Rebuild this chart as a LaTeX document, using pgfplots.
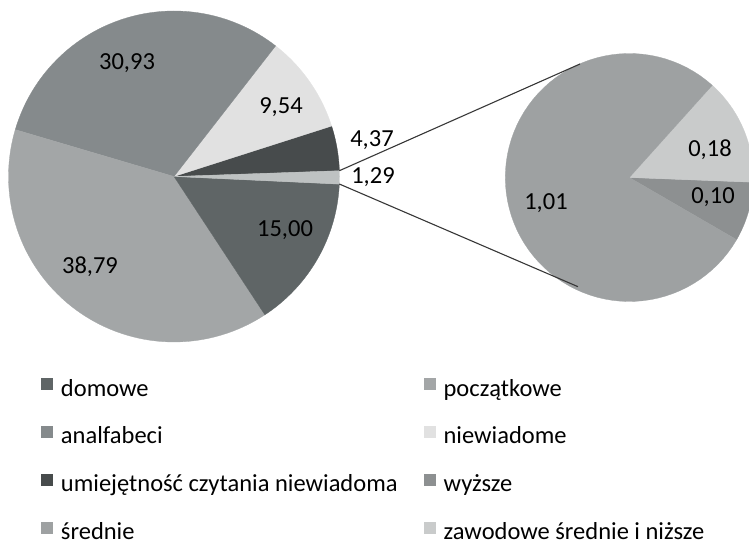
\documentclass[border=0pt]{standalone}
\usepackage{fontspec}
\setmainfont{Carlito}
\usepackage{pgfplots}
\pgfplotsset{compat=1.18}
\definecolor{cDom}{RGB}{95,101,102}
\definecolor{cPocz}{RGB}{163,166,167}
\definecolor{cAnal}{RGB}{133,138,140}
\definecolor{cNiew}{RGB}{225,225,225}
\definecolor{cUmiej}{RGB}{71,75,76}
\definecolor{cInne}{RGB}{190,194,194}
\definecolor{cSred}{RGB}{158,161,162}
\definecolor{cZaw}{RGB}{201,203,203}
\definecolor{cWyz}{RGB}{141,144,145}
\definecolor{cLine}{RGB}{55,55,55}
\newcommand\lblfont{\fontsize{24.5}{29}\selectfont}
% one wedge: centre x, centre y, radius, start angle, end angle, colour
\newcommand\slice[6]{%
  \addplot[fill=#6, draw=#6, line width=0.3pt, domain=#4:#5, samples=80,
    variable=\t, forget plot]
    ({#1+#3*cos(\t)},{#2+#3*sin(\t)}) -- (axis cs:#1,#2) -- cycle;}
\begin{document}
\begin{tikzpicture}
% values (percent)
\def\vDom{15.00}\def\vPocz{38.79}\def\vAnal{30.93}\def\vNiew{9.54}
\def\vUmiej{4.37}\def\vInne{1.29}
\def\vSred{1.01}\def\vZaw{0.18}\def\vWyz{0.10}
\pgfmathsetmacro\tot{\vDom+\vPocz+\vAnal+\vNiew+\vUmiej+\vInne}
\pgfmathsetmacro\aA{2.0}
\pgfmathsetmacro\aB{\aA+360*\vUmiej/\tot}
\pgfmathsetmacro\aC{\aB+360*\vNiew/\tot}
\pgfmathsetmacro\aD{\aC+360*\vAnal/\tot}
\pgfmathsetmacro\aE{\aD+360*\vPocz/\tot}
\pgfmathsetmacro\aF{\aE+360*\vDom/\tot}
\pgfmathsetmacro\aG{\aF+360*\vInne/\tot}
\pgfmathsetmacro\tots{\vSred+\vZaw+\vWyz}
\pgfmathsetmacro\bA{-30.1}
\pgfmathsetmacro\bB{\bA+360*\vWyz/\tots}
\pgfmathsetmacro\bC{\bB+360*\vZaw/\tots}
\pgfmathsetmacro\bD{\bC+360*\vSred/\tots}
\begin{axis}[
  at={(0,0)}, anchor=south west,
  scale only axis, width=749pt, height=546pt,
  xmin=0, xmax=749, ymin=0, ymax=546,
  hide axis, clip=true,
  legend columns=2, legend cell align=left,
  legend style={at={(0.05474,0.3077)}, anchor=north west, draw=none, fill=none,
    inner sep=0pt, outer sep=0pt, row sep=24.9pt, column sep=8pt,
    font=\lblfont,
    nodes={inner sep=0pt, outer sep=0pt, text height=17pt, text depth=5pt},
    /tikz/every even column/.append style={column sep=26pt}},
  legend image code/.code={\fill[#1, draw=none] (0pt,0pt) rectangle (12pt,12pt);},
]
% main pie
\slice{174}{369.5}{165.5}{\aA}{\aB}{cUmiej}
\slice{174}{369.5}{165.5}{\aB}{\aC}{cNiew}
\slice{174}{369.5}{165.5}{\aC}{\aD}{cAnal}
\slice{174}{369.5}{165.5}{\aD}{\aE}{cPocz}
\slice{174}{369.5}{165.5}{\aE}{\aF}{cDom}
\slice{174}{369.5}{165.5}{\aF}{\aG}{cInne}
% secondary pie
\slice{629.3}{368.5}{124}{\bA}{\bB}{cWyz}
\slice{629.3}{368.5}{124}{\bB}{\bC}{cZaw}
\slice{629.3}{368.5}{124}{\bC}{\bD}{cSred}
% connector lines
\addplot[cLine, line width=1.1pt, forget plot] coordinates {(339.4,375.3) (580,482)};
\addplot[cLine, line width=1.1pt, forget plot] coordinates {(339.3,362.0) (578,259.3)};
% data labels
\node[font=\lblfont] at (axis cs:127,483) {30,93};
\node[font=\lblfont] at (axis cs:281,439) {9,54};
\node[font=\lblfont] at (axis cs:372,406) {4,37};
\node[font=\lblfont] at (axis cs:373,369) {1,29};
\node[font=\lblfont] at (axis cs:285,316) {15,00};
\node[font=\lblfont] at (axis cs:90,279) {38,79};
\node[font=\lblfont] at (axis cs:546,343) {1,01};
\node[font=\lblfont] at (axis cs:710,396) {0,18};
\node[font=\lblfont] at (axis cs:713,349) {0,10};
% legend
\addlegendimage{fill=cDom}\addlegendentry{domowe}
\addlegendimage{fill=cPocz}\addlegendentry{początkowe}
\addlegendimage{fill=cAnal}\addlegendentry{analfabeci}
\addlegendimage{fill=cNiew}\addlegendentry{niewiadome}
\addlegendimage{fill=cUmiej}\addlegendentry{umiejętność czytania niewiadoma}
\addlegendimage{fill=cWyz}\addlegendentry{wyższe}
\addlegendimage{fill=cSred}\addlegendentry{średnie}
\addlegendimage{fill=cZaw}\addlegendentry{zawodowe średnie i niższe}
\end{axis}
\pgfresetboundingbox
\useasboundingbox (0,0) rectangle (749pt,546pt);
\end{tikzpicture}
\end{document}
